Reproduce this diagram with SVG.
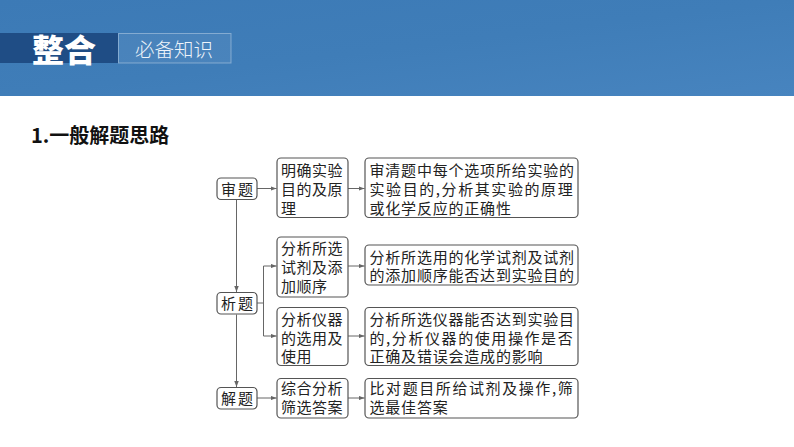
<svg xmlns="http://www.w3.org/2000/svg" width="794" height="447" viewBox="0 0 794 447">
<defs>
<linearGradient id="band" x1="0" y1="0" x2="1" y2="1">
<stop offset="0" stop-color="#3c7ab6"/>
<stop offset="0.5" stop-color="#3f7db8"/>
<stop offset="1" stop-color="#4784bf"/>
</linearGradient>
<marker id="arr" viewBox="0 0 8 6" refX="8" refY="3" markerWidth="6" markerHeight="4.5" orient="auto" markerUnits="userSpaceOnUse">
<path d="M0,0 L8,3 L0,6 Z" fill="#666"/>
</marker>
<style>
.box{fill:#fff;stroke:#555;stroke-width:1.2}
.t{font-family:"Noto Sans CJK SC","Liberation Serif",serif;font-size:15px;fill:#222;letter-spacing:0.5px}
.r{letter-spacing:0.8px}
.s{letter-spacing:2px}
.ln{fill:none;stroke:#666;stroke-width:1}
</style>
</defs>
<rect width="794" height="447" fill="#fff"/>
<g id="header">
<rect x="0" y="0" width="794" height="96" fill="url(#band)"/>
<rect x="0" y="33" width="118" height="30" fill="#1f4d85"/>
<rect x="118.5" y="33.5" width="112.5" height="29.5" fill="#ffffff" fill-opacity="0.06" stroke="#ffffff" stroke-opacity="0.35" stroke-width="1"/>
<text x="32" y="61.5" font-family="Noto Sans CJK SC,sans-serif" font-size="32" font-weight="900" fill="#fff">整合</text>
<text x="135" y="56.5" font-family="Noto Sans CJK SC,sans-serif" font-size="19.5" font-weight="300" fill="#eef4fa">必备知识</text>
</g>
<g id="title">
<text x="31" y="143" font-family="Noto Sans CJK SC,sans-serif" font-size="20" font-weight="bold" fill="#111">1.一般解题思路</text>
</g>
<g id="connectors">
<line class="ln" x1="236.5" y1="199.5" x2="236.5" y2="292" marker-end="url(#arr)"/>
<line class="ln" x1="236.5" y1="314.5" x2="236.5" y2="387" marker-end="url(#arr)"/>
<line class="ln" x1="257" y1="188.5" x2="276.5" y2="188.5" marker-end="url(#arr)"/>
<line class="ln" x1="348" y1="188.5" x2="364.5" y2="188.5" marker-end="url(#arr)"/>
<polyline class="ln" points="257,303 263.5,303"/>
<line class="ln" x1="263.5" y1="266" x2="263.5" y2="336"/>
<line class="ln" x1="263.5" y1="266" x2="276.5" y2="266" marker-end="url(#arr)"/>
<line class="ln" x1="263.5" y1="336" x2="276.5" y2="336" marker-end="url(#arr)"/>
<line class="ln" x1="348" y1="266" x2="364.5" y2="266" marker-end="url(#arr)"/>
<line class="ln" x1="348" y1="336" x2="364.5" y2="336" marker-end="url(#arr)"/>
<line class="ln" x1="257" y1="398" x2="276.5" y2="398" marker-end="url(#arr)"/>
<line class="ln" x1="348" y1="398" x2="364.5" y2="398" marker-end="url(#arr)"/>
</g>
<g id="n-shenti">
<rect class="box" x="217" y="178" width="40" height="21.5" rx="4"/>
<text class="t s" x="221" y="194.5">审题</text>
</g>
<g id="n-xiti">
<rect class="box" x="217" y="292.5" width="40" height="21.5" rx="4"/>
<text class="t s" x="221" y="308.5">析题</text>
</g>
<g id="n-jieti">
<rect class="box" x="217" y="387.5" width="40" height="21.5" rx="4"/>
<text class="t s" x="221" y="403.5">解题</text>
</g>
<g id="n-m1">
<rect class="box" x="277" y="158" width="71" height="59.5" rx="4"/>
<text class="t" x="281" y="175.5">明确实验</text>
<text class="t" x="281" y="194.5">目的及原</text>
<text class="t" x="281" y="213.5">理</text>
</g>
<g id="n-r1">
<rect class="box" x="365" y="158" width="213" height="59.5" rx="4"/>
<text class="t r" x="369.5" y="175.5">审清题中每个选项所给实验的</text>
<text class="t r" x="369.5" y="194.5" textLength="204" lengthAdjust="spacing">实验目的,分析其实验的原理</text>
<text class="t r" x="369.5" y="213.5">或化学反应的正确性</text>
</g>
<g id="n-m2">
<rect class="box" x="277" y="237" width="71" height="60" rx="4"/>
<text class="t" x="281" y="254">分析所选</text>
<text class="t" x="281" y="273">试剂及添</text>
<text class="t" x="281" y="292">加顺序</text>
</g>
<g id="n-r2">
<rect class="box" x="365" y="245" width="213" height="40" rx="4"/>
<text class="t r" x="369.5" y="263">分析所选用的化学试剂及试剂</text>
<text class="t r" x="369.5" y="280.5">的添加顺序能否达到实验目的</text>
</g>
<g id="n-m3">
<rect class="box" x="277" y="307.5" width="71" height="58" rx="4"/>
<text class="t" x="281" y="324.5">分析仪器</text>
<text class="t" x="281" y="343.5">的选用及</text>
<text class="t" x="281" y="362">使用</text>
</g>
<g id="n-r3">
<rect class="box" x="365" y="307.5" width="213" height="58" rx="4"/>
<text class="t r" x="369.5" y="324.5">分析所选仪器能否达到实验目</text>
<text class="t r" x="369.5" y="343.5" textLength="204" lengthAdjust="spacing">的,分析仪器的使用操作是否</text>
<text class="t r" x="369.5" y="362">正确及错误会造成的影响</text>
</g>
<g id="n-m4">
<rect class="box" x="277" y="378.5" width="71" height="39.5" rx="4"/>
<text class="t" x="281" y="394">综合分析</text>
<text class="t" x="281" y="412.5">筛选答案</text>
</g>
<g id="n-r4">
<rect class="box" x="365" y="378.5" width="213" height="39.5" rx="4"/>
<text class="t r" x="369.5" y="394" textLength="204" lengthAdjust="spacing">比对题目所给试剂及操作,筛</text>
<text class="t r" x="369.5" y="412.5">选最佳答案</text>
</g>
</svg>
